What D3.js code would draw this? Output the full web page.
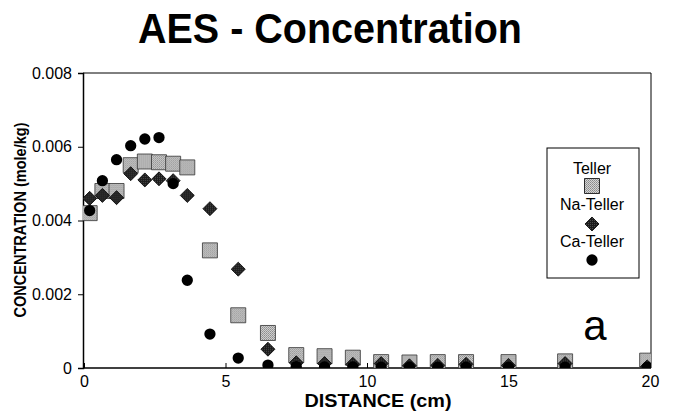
<!DOCTYPE html>
<meta charset="utf-8">
<style>
body { margin: 0; background: #fff; }
text { font-family: "Liberation Sans", Arial, sans-serif; fill: #000; }
.axis path, .axis line { stroke: #000; }
.axis text { font-size: 16px; }
</style>
<svg width="678" height="412"></svg>
<script src="https://d3js.org/d3.v7.min.js"></script>
<script>

// distance (cm) of each sample
var distance = [0.2, 0.65, 1.15, 1.65, 2.15, 2.65, 3.15, 3.65, 4.45, 5.45, 6.5,
                7.5, 8.5, 9.5, 10.5, 11.5, 12.5, 13.5, 15, 17, 19.9];

// concentration (mole/kg)
var teller   = [0.0042, 0.0048, 0.0048, 0.0055, 0.0056, 0.00558, 0.00554, 0.00544, 0.00319, 0.00143, 0.00095,
                0.00035, 0.00032, 0.00028, 0.00016, 0.00015, 0.00016, 0.00016, 0.00016, 0.00018, 0.0002];
var naTeller = [0.0046, 0.00468, 0.00462, 0.00527, 0.0051, 0.00513, 0.00508, 0.00468, 0.00432, 0.00268, 0.00051,
                0.00014, 0.00012, 0.0001, 0.00012, 0.00006, 0.00007, 0.0001, 0.00007, 0.00012, 0.00003];
var caTeller = [0.00427, 0.00508, 0.00565, 0.00603, 0.00621, 0.00625, 0.005, 0.00238, 0.00092, 0.00027, 0.00008,
                0.00004, 0.00003, 0.00003, 0.00002, 0.00002, 0.00002, 0.00002, 0.00002, 0.00002, 0.00002];

var xTicks = [0, 5, 10, 15, 20];
var yTicks = [0, 0.002, 0.004, 0.006, 0.008];
var seriesNames = ["Teller", "Na-Teller", "Ca-Teller"];

var svg = d3.select("svg");

var pLeft = 83, pRight = 651, pTop = 73, pBottom = 368;

var x = d3.scaleLinear().domain([0, 20]).range([84, 650]);
var y = d3.scaleLinear().domain([0, 0.008]).range([pBottom, pTop]);

// stipple patterns like the printed markers
var defs = svg.append("defs");
var pSq = defs.append("pattern").attr("id", "sq").attr("width", 2).attr("height", 2)
    .attr("patternUnits", "userSpaceOnUse");
pSq.append("rect").attr("width", 2).attr("height", 2).attr("fill", "#d4d4d4");
pSq.append("rect").attr("width", 1).attr("height", 1).attr("fill", "#888");
pSq.append("rect").attr("x", 1).attr("y", 1).attr("width", 1).attr("height", 1).attr("fill", "#9a9a9a");

var pDi = defs.append("pattern").attr("id", "di").attr("width", 2).attr("height", 2)
    .attr("patternUnits", "userSpaceOnUse");
pDi.append("rect").attr("width", 2).attr("height", 2).attr("fill", "#1c1c1c");
pDi.append("rect").attr("width", 1).attr("height", 1).attr("fill", "#4a4a4a");

defs.append("clipPath").attr("id", "plot")
  .append("rect").attr("x", pLeft).attr("y", pTop).attr("width", pRight - pLeft).attr("height", pBottom - pTop);

// title
svg.append("text")
    .attr("x", 330).attr("y", 43)
    .attr("text-anchor", "middle")
    .attr("font-size", 42).attr("font-weight", "bold")
    .attr("textLength", 384).attr("lengthAdjust", "spacingAndGlyphs")
    .text("AES - Concentration");

// frame
svg.append("line").attr("x1", pLeft).attr("x2", pRight).attr("y1", pTop).attr("y2", pTop)
    .attr("stroke", "#000").attr("stroke-width", 1);
svg.append("line").attr("x1", pRight).attr("x2", pRight).attr("y1", pTop).attr("y2", pBottom)
    .attr("stroke", "#000").attr("stroke-width", 1);

var yAxis = svg.append("g").attr("class", "axis")
    .attr("transform", "translate(" + pLeft + ",0)")
    .call(d3.axisLeft(y).tickValues(yTicks).tickSize(5).tickPadding(6)
      .tickFormat(function(d) { return d === 0 ? "0" : d3.format(".3f")(d); }));
yAxis.select(".domain").attr("stroke-width", 1.5);

var xAxis = svg.append("g").attr("class", "axis")
    .attr("transform", "translate(0," + pBottom + ")")
    .call(d3.axisBottom(x).tickValues(xTicks).tickSizeInner(-5).tickSizeOuter(0).tickPadding(8)
      .tickFormat(d3.format("d")));
xAxis.select(".domain").attr("stroke-width", 1.5).attr("d", "M" + pLeft + ",0H" + pRight);

// axis titles
svg.append("text")
    .attr("transform", "translate(26,220) rotate(-90)")
    .attr("text-anchor", "middle")
    .attr("font-size", 16).attr("font-weight", "bold")
    .attr("textLength", 195).attr("lengthAdjust", "spacingAndGlyphs")
    .text("CONCENTRATION (mole/kg)");

svg.append("text")
    .attr("x", 378).attr("y", 407)
    .attr("text-anchor", "middle")
    .attr("font-size", 19).attr("font-weight", "bold")
    .attr("textLength", 147).attr("lengthAdjust", "spacingAndGlyphs")
    .text("DISTANCE (cm)");

// markers
var sqSym = d3.symbol().type(d3.symbolSquare).size(225);
var diSym = d3.symbol().type(d3.symbolDiamond2).size(125);
var ciSym = d3.symbol().type(d3.symbolCircle).size(100);

var marks = svg.append("g").attr("clip-path", "url(#plot)");

marks.selectAll(".teller").data(distance).enter().append("path")
    .attr("class", "teller")
    .attr("d", sqSym)
    .attr("transform", function(d, i) { return "translate(" + x(d) + "," + y(teller[i]) + ")"; })
    .attr("fill", "url(#sq)").attr("stroke", "#333").attr("stroke-width", 0.8);

marks.selectAll(".na").data(distance).enter().append("path")
    .attr("class", "na")
    .attr("d", diSym)
    .attr("transform", function(d, i) { return "translate(" + x(d) + "," + y(naTeller[i]) + ")"; })
    .attr("fill", "url(#di)").attr("stroke", "#000").attr("stroke-width", 0.8);

marks.selectAll(".ca").data(distance).enter().append("path")
    .attr("class", "ca")
    .attr("d", ciSym)
    .attr("transform", function(d, i) { return "translate(" + x(d) + "," + y(caTeller[i]) + ")"; })
    .attr("fill", "#000");

// panel letter
svg.append("text")
    .attr("x", 595).attr("y", 340)
    .attr("text-anchor", "middle")
    .attr("font-size", 42)
    .text("a");

// legend
var lg = svg.append("g");
lg.append("rect").attr("x", 547).attr("y", 148).attr("width", 92).attr("height", 130)
    .attr("fill", "#fff").attr("stroke", "#000").attr("stroke-width", 1);

var legendRows = [174, 210, 247];
var legendMarks = [186, 224, 260];
var legendSyms = [sqSym, diSym, ciSym];
var legendFill = ["url(#sq)", "url(#di)", "#000"];

seriesNames.forEach(function(name, i) {
  lg.append("text").attr("x", 592).attr("y", legendRows[i])
      .attr("text-anchor", "middle").attr("font-size", 16).text(name);
  lg.append("path").attr("d", legendSyms[i])
      .attr("transform", "translate(592," + legendMarks[i] + ")")
      .attr("fill", legendFill[i])
      .attr("stroke", i === 2 ? "none" : "#000").attr("stroke-width", 0.8);
});

</script>
